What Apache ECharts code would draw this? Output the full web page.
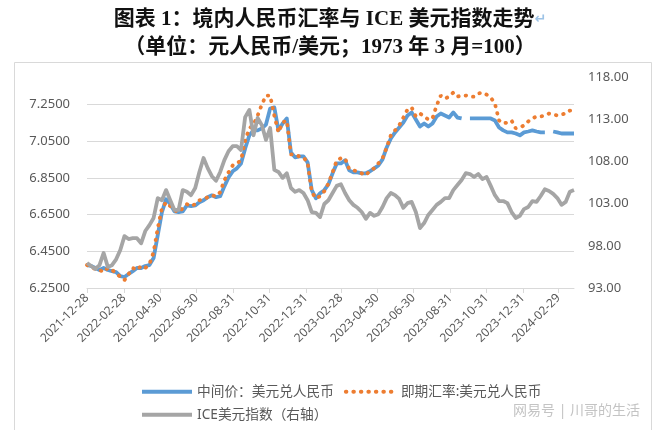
<!DOCTYPE html>
<html>
<head>
<meta charset="utf-8">
<script src="https://cdn.jsdelivr.net/npm/echarts@6/dist/echarts.min.js"></script>
<style>
html, body { margin: 0; padding: 0; background: #fff; }
#chart { width: 660px; height: 430px; }
</style>
</head>
<body>
<div id="chart"></div>
<script>
// weekly sampling dates, starting 2021-12-28
var weekDates = [];
for (var i = 0; i < 118; i++) {
    var d = new Date(2021, 11, 28 + 7 * i);
    weekDates.push(d.getFullYear() + '-' + ('0' + (d.getMonth() + 1)).slice(-2) + '-' + ('0' + d.getDate()).slice(-2));
}

var tickDates = ['2021-12-28', '2022-02-28', '2022-04-30', '2022-06-30', '2022-08-31', '2022-10-31', '2022-12-31',
    '2023-02-28', '2023-04-30', '2023-06-30', '2023-08-31', '2023-10-31', '2023-12-31', '2024-02-29'];

// 中间价：美元兑人民币
var midRate = [
    6.375, 6.370, 6.359, 6.348, 6.359, 6.348, 6.342, 6.337, 6.315, 6.310,
    6.326, 6.342, 6.359, 6.359, 6.370, 6.375, 6.413, 6.538, 6.663, 6.734,
    6.707, 6.668, 6.663, 6.668, 6.700, 6.696, 6.700, 6.717, 6.728, 6.745,
    6.755, 6.745, 6.750, 6.804, 6.853, 6.886, 6.902, 6.929, 7.011, 7.082,
    7.109, 7.109, 7.120, 7.141, 7.228, 7.234, 7.109, 7.147, 7.174, 6.989,
    6.962, 6.967, 6.967, 6.935, 6.783, 6.739, 6.766, 6.783, 6.815, 6.875,
    6.929, 6.929, 6.946, 6.891, 6.880, 6.880, 6.875, 6.875, 6.886, 6.902,
    6.918, 6.951, 7.016, 7.065, 7.098, 7.125, 7.152, 7.190, 7.207, 7.168,
    7.130, 7.147, 7.130, 7.147, 7.185, 7.201, 7.190, 7.179, 7.207, 7.179,
    7.174, null, 7.174, 7.174, 7.174, 7.174, 7.174, 7.174, 7.163, 7.125,
    7.109, 7.098, 7.098, 7.092, 7.082, 7.098, 7.103, 7.109, 7.103, 7.098,
    7.098, null, 7.103, 7.098, 7.092, 7.092, 7.092, 7.092
];

// 即期汇率:美元兑人民币
var spotRate = [
    6.375, 6.364, 6.353, 6.348, 6.337, 6.359, 6.348, 6.332, 6.310, 6.293,
    6.326, 6.359, 6.348, 6.370, 6.359, 6.380, 6.446, 6.576, 6.685, 6.717,
    6.696, 6.674, 6.663, 6.685, 6.707, 6.696, 6.707, 6.728, 6.734, 6.745,
    6.755, 6.750, 6.772, 6.837, 6.880, 6.918, 6.929, 6.946, 7.054, 7.120,
    7.140, 7.190, 7.250, 7.299, 7.299, 7.190, 7.098, 7.152, 7.163, 6.978,
    6.978, 6.967, 6.962, 6.935, 6.772, 6.739, 6.750, 6.777, 6.820, 6.880,
    6.946, 6.957, 6.957, 6.897, 6.891, 6.886, 6.875, 6.864, 6.891, 6.902,
    6.929, 6.957, 7.016, 7.082, 7.109, 7.136, 7.179, 7.223, 7.234, 7.185,
    7.201, 7.185, 7.168, 7.174, 7.245, 7.299, 7.283, 7.293, 7.315, 7.293,
    7.299, 7.299, 7.293, 7.293, 7.310, 7.315, 7.304, 7.288, 7.255, 7.163,
    7.147, 7.152, 7.163, 7.120, 7.125, 7.136, 7.158, 7.174, 7.185, 7.185,
    7.190, 7.201, 7.196, 7.190, 7.196, 7.201, 7.217, 7.217
];

// ICE美元指数（右轴）
var iceIndex = [
    95.96, 95.6, 95.25, 95.7, 97.15, 95.5, 95.7, 96.4, 97.5, 99.15,
    98.8, 98.9, 98.9, 98.3, 99.75, 100.45, 101.3, 103.65, 103.4, 104.6,
    103.4, 102.25, 102.25, 104.6, 104.4, 104.0, 104.85, 106.75, 108.4, 107.2,
    106.25, 105.7, 106.75, 108.15, 109.2, 109.8, 109.8, 109.35, 113.25, 114.1,
    111.1, 113.15, 112.3, 110.55, 111.95, 107.0, 106.75, 106.05, 106.6, 104.85,
    104.4, 104.6, 104.25, 103.4, 102.0, 101.9, 101.4, 102.95, 103.4, 104.25,
    105.1, 105.3, 104.25, 103.4, 102.85, 102.5, 102.0, 101.2, 101.9, 101.55,
    101.75, 102.6, 103.65, 104.25, 104.0, 103.55, 102.5, 103.05, 103.2, 102.0,
    100.1, 100.7, 101.65, 102.25, 102.85, 103.2, 103.65, 103.65, 104.6, 105.2,
    105.8, 106.6, 106.5, 106.15, 106.5, 105.9, 106.15, 105.1, 104.0, 103.3,
    103.3, 103.05, 102.0, 101.3, 101.55, 102.35, 102.6, 103.3, 103.2, 103.9,
    104.7, 104.5, 104.15, 103.65, 102.85, 103.2, 104.4, 104.6
];

function toTime(s) {
    var p = s.split('-');
    return +new Date(+p[0], +p[1] - 1, +p[2]);
}
function pairs(vals) {
    return vals.map(function (v, k) { return [toTime(weekDates[k]), v]; });
}

var labelColor = '#595959';
var gridColor = '#D9D9D9';
var cjk = "'Noto Sans', 'Noto Sans CJK SC', sans-serif";
var serif = "'Liberation Serif', 'Noto Sans CJK SC', serif";

var legendCommon = {
    itemWidth: 50, itemHeight: 14, itemGap: 10,
    itemStyle: { opacity: 0 },
    lineStyle: { width: 4 },
    textStyle: { fontSize: 13.7, color: labelColor, fontFamily: cjk }
};

var chart = echarts.init(document.getElementById('chart'));
chart.setOption({
    animation: false,
    backgroundColor: '#fff',
    title: [
        {
            text: '图表 1：境内人民币汇率与 ICE 美元指数走势{m|↵}',
            left: 'center', top: 4,
            textStyle: {
                fontFamily: serif, fontSize: 21, fontWeight: 'bold', color: '#111',
                rich: { m: { fontSize: 14, color: '#9DC3E6', fontFamily: 'DejaVu Sans' } }
            }
        },
        {
            text: '（单位：元人民币/美元；1973 年 3 月=100）',
            left: 'center', top: 32,
            textStyle: { fontFamily: serif, fontSize: 21, fontWeight: 'bold', color: '#111' }
        }
    ],
    graphic: [
        {
            type: 'rect', silent: true, z: -1,
            shape: { x: 14.5, y: 62.5, width: 637, height: 380 },
            style: { fill: 'none', stroke: gridColor, lineWidth: 1 }
        },
        {
            type: 'text', left: 513, top: 404, silent: true,
            style: { text: '网易号 | 川哥的生活', fontSize: 14, fill: '#C4C4C4', fontFamily: cjk }
        }
    ],
    grid: { left: 87, right: 86, top: 77, bottom: 142 },
    legend: [
        Object.assign({ left: 135, top: 380, data: ['中间价：美元兑人民币', '即期汇率:美元兑人民币'] }, legendCommon),
        Object.assign({ left: 135, top: 403, data: ['ICE美元指数（右轴）'] }, legendCommon)
    ],
    xAxis: {
        type: 'value',
        min: toTime('2021-12-28'),
        max: toTime('2024-03-26'),
        axisLine: { onZero: false, lineStyle: { color: gridColor } },
        axisTick: { show: true, length: 5, lineStyle: { color: gridColor }, customValues: tickDates.map(toTime) },
        splitLine: { show: false },
        axisLabel: {
            customValues: tickDates.map(toTime),
            rotate: 45, fontSize: 12, color: labelColor, fontFamily: cjk, margin: 8,
            formatter: function (v) { return echarts.time.format(v, '{yyyy}-{MM}-{dd}', false); }
        }
    },
    yAxis: [
        {
            type: 'value', min: 6.25, max: 7.40, interval: 0.2,
            axisLine: { show: false }, axisTick: { show: false },
            splitLine: { show: true, showMaxLine: false, lineStyle: { color: gridColor, width: 1 } },
            axisLabel: {
                showMaxLabel: false, fontSize: 13, color: labelColor, fontFamily: cjk, margin: 17,
                formatter: function (v) { return v.toFixed(4); }
            }
        },
        {
            type: 'value', min: 93, max: 118, interval: 5,
            axisLine: { show: false }, axisTick: { show: false }, splitLine: { show: false },
            axisLabel: {
                fontSize: 13, color: labelColor, fontFamily: cjk, margin: 14,
                formatter: function (v) { return v.toFixed(2); }
            }
        }
    ],
    series: [
        {
            name: '中间价：美元兑人民币', type: 'line', yAxisIndex: 0,
            data: pairs(midRate), symbol: 'none',
            itemStyle: { color: '#5B9BD5' },
            lineStyle: { color: '#5B9BD5', width: 3.8, join: 'round' }
        },
        {
            name: '即期汇率:美元兑人民币', type: 'line', yAxisIndex: 0,
            data: pairs(spotRate), symbol: 'none',
            itemStyle: { color: '#ED7D31' },
            lineStyle: { color: '#ED7D31', width: 3.8, type: [0.5, 7], cap: 'round' }
        },
        {
            name: 'ICE美元指数（右轴）', type: 'line', yAxisIndex: 1,
            data: pairs(iceIndex), symbol: 'none',
            itemStyle: { color: '#A5A5A5' },
            lineStyle: { color: '#A5A5A5', width: 3.8, join: 'round' }
        }
    ]
});
</script>
</body>
</html>
